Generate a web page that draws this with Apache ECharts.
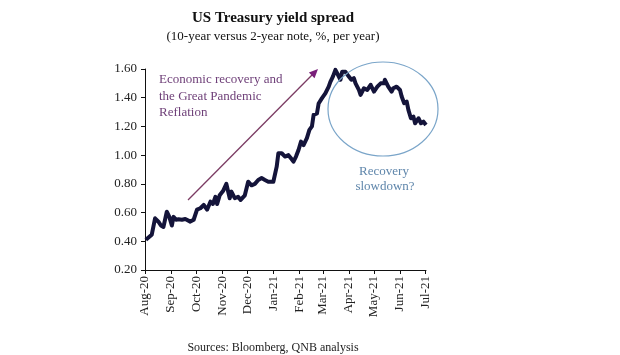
<!DOCTYPE html>
<html><head><meta charset="utf-8">
<script src="https://cdn.jsdelivr.net/npm/echarts@6/dist/echarts.min.js"></script>
<style>html,body{margin:0;padding:0;background:#fff}#c{width:620px;height:355px}</style>
</head><body><div id="c"></div>
<script>
const dates = [
'2020-08-02','2020-08-09','2020-08-13','2020-08-17','2020-08-20','2020-08-23','2020-08-27','2020-08-30',
'2020-09-02','2020-09-04','2020-09-07','2020-09-10','2020-09-14','2020-09-18','2020-09-24','2020-09-28',
'2020-10-02','2020-10-06','2020-10-10','2020-10-14','2020-10-18','2020-10-21','2020-10-24','2020-10-26','2020-10-29',
'2020-11-02','2020-11-06','2020-11-10','2020-11-12','2020-11-16','2020-11-20','2020-11-23','2020-11-28',
'2020-12-02','2020-12-06','2020-12-10','2020-12-14','2020-12-18','2020-12-22','2020-12-26',
'2021-01-01','2021-01-05','2021-01-07','2021-01-11','2021-01-15','2021-01-19','2021-01-22','2021-01-25','2021-01-28','2021-01-31',
'2021-02-03','2021-02-06','2021-02-10','2021-02-13','2021-02-16','2021-02-18','2021-02-22','2021-02-24','2021-02-28',
'2021-03-04','2021-03-08','2021-03-10','2021-03-13','2021-03-16','2021-03-19','2021-03-22','2021-03-24','2021-03-28',
'2021-04-01','2021-04-04','2021-04-07','2021-04-09','2021-04-13','2021-04-15','2021-04-19','2021-04-23','2021-04-27',
'2021-05-01','2021-05-05','2021-05-09','2021-05-13','2021-05-14','2021-05-18','2021-05-22','2021-05-24','2021-05-28',
'2021-06-01','2021-06-03','2021-06-06','2021-06-09','2021-06-11','2021-06-14','2021-06-17','2021-06-19','2021-06-23','2021-06-26','2021-06-29',
'2021-07-02'
];
const spread = [
0.41,0.445,0.56,0.537,0.51,0.50,0.606,0.57,
0.51,0.57,0.55,0.553,0.55,0.555,0.537,0.55,
0.62,0.63,0.653,0.62,0.676,0.66,0.71,0.66,0.72,
0.75,0.80,0.70,0.746,0.70,0.71,0.688,0.72,
0.815,0.79,0.80,0.827,0.84,0.827,0.815,
0.815,0.92,1.013,1.013,0.99,1.0,0.978,0.955,0.99,1.036,
1.094,1.07,1.118,1.176,1.2,1.28,1.29,1.36,1.397,
1.43,1.477,1.51,1.547,1.594,1.56,1.525,1.58,1.58,
1.547,1.525,1.536,1.50,1.454,1.42,1.466,1.454,1.49,
1.443,1.477,1.50,1.50,1.525,1.477,1.443,1.466,1.477,
1.454,1.408,1.362,1.373,1.315,1.257,1.268,1.222,1.257,1.222,1.233,
1.21
];
const axisStart = '2020-08-01';
const axisEnd = '2021-07-02';
const monthNames = ['Jan','Feb','Mar','Apr','May','Jun','Jul','Aug','Sep','Oct','Nov','Dec'];
const yMin = 0.2, yMax = 1.6, yStep = 0.2;
const titleText = 'US Treasury yield spread';
const subtitleText = '(10-year versus 2-year note, %, per year)';
const sourceText = 'Sources: Bloomberg, QNB analysis';
const noteUp = ['Economic recovery and', 'the Great Pandemic', 'Reflation'];
const noteDown = ['Recovery', 'slowdown?'];

// calendar-day categories for a date axis
const days = [];
{
  let t = Date.UTC(2020, 7, 1);
  const end = Date.UTC(2021, 6, 2);
  while (t <= end) {
    days.push(new Date(t).toISOString().slice(0, 10));
    t += 86400000;
  }
}
const isMonthStart = (i, v) => v.slice(8, 10) === '01';
const serif = 'Liberation Serif';

const chart = echarts.init(document.getElementById('c'), null, {renderer: 'canvas'});
chart.setOption({
  animation: false,
  backgroundColor: '#fff',
  grid: {left: 145, right: 194, top: 69, bottom: 85, containLabel: false},
  xAxis: {
    type: 'category',
    data: days,
    boundaryGap: false,
    axisLine: {show: true, lineStyle: {color: '#111', width: 1}},
    axisTick: {show: true, interval: isMonthStart, length: 4, lineStyle: {color: '#111'}},
    axisLabel: {
      interval: isMonthStart, rotate: 90, margin: 6,
      fontFamily: serif, fontSize: 13, color: '#222',
      formatter: v => monthNames[+v.slice(5, 7) - 1] + '-' + v.slice(2, 4)
    },
    splitLine: {show: false}
  },
  yAxis: {
    type: 'value', min: yMin, max: yMax, interval: yStep,
    axisLine: {show: true, lineStyle: {color: '#111', width: 1}},
    axisTick: {show: true, length: 4, lineStyle: {color: '#111'}},
    axisLabel: {fontFamily: serif, fontSize: 13, color: '#222', margin: 8, formatter: v => v.toFixed(2)},
    splitLine: {show: false}
  },
  series: [{
    type: 'line',
    data: dates.map((d, i) => [d, spread[i]]),
    showSymbol: false,
    lineStyle: {color: '#14143a', width: 4, join: 'round'},
    z: 3
  }],
  graphic: [
    {type: 'text', x: 273, y: 18, style: {text: titleText, font: 'bold 15px "Liberation Serif"', fill: '#111', textAlign: 'center', textVerticalAlign: 'middle'}},
    {type: 'text', x: 273, y: 37, style: {text: subtitleText, font: '13px "Liberation Serif"', fill: '#111', textAlign: 'center', textVerticalAlign: 'middle'}},
    {type: 'text', x: 273, y: 348, style: {text: sourceText, font: '12px "Liberation Serif"', fill: '#222', textAlign: 'center', textVerticalAlign: 'middle'}},
    {type: 'text', x: 159, y: 80, style: {text: noteUp[0], font: '13px "Liberation Serif"', fill: '#6e3f78', textAlign: 'left', textVerticalAlign: 'middle'}},
    {type: 'text', x: 159, y: 96.5, style: {text: noteUp[1], font: '13px "Liberation Serif"', fill: '#6e3f78', textAlign: 'left', textVerticalAlign: 'middle'}},
    {type: 'text', x: 159, y: 112.5, style: {text: noteUp[2], font: '13px "Liberation Serif"', fill: '#6e3f78', textAlign: 'left', textVerticalAlign: 'middle'}},
    {type: 'text', x: 384, y: 172, style: {text: noteDown[0], font: '13px "Liberation Serif"', fill: '#5f86ab', textAlign: 'center', textVerticalAlign: 'middle'}},
    {type: 'text', x: 385, y: 187, style: {text: noteDown[1], font: '13px "Liberation Serif"', fill: '#5f86ab', textAlign: 'center', textVerticalAlign: 'middle'}},
    {type: 'line', shape: {x1: 188, y1: 200, x2: 313, y2: 74}, style: {stroke: '#7b3b63', lineWidth: 1.3}, z: 10},
    {type: 'polygon', shape: {points: [[318, 69], [314.5, 78.2], [308.9, 72.6]]}, style: {fill: '#7a1f7a'}, z: 10},
    {type: 'ellipse', shape: {cx: 383, cy: 109, rx: 55, ry: 47}, style: {fill: 'none', stroke: '#7aa5c9', lineWidth: 1.2}, z: 10}
  ]
});
</script>
</body></html>
